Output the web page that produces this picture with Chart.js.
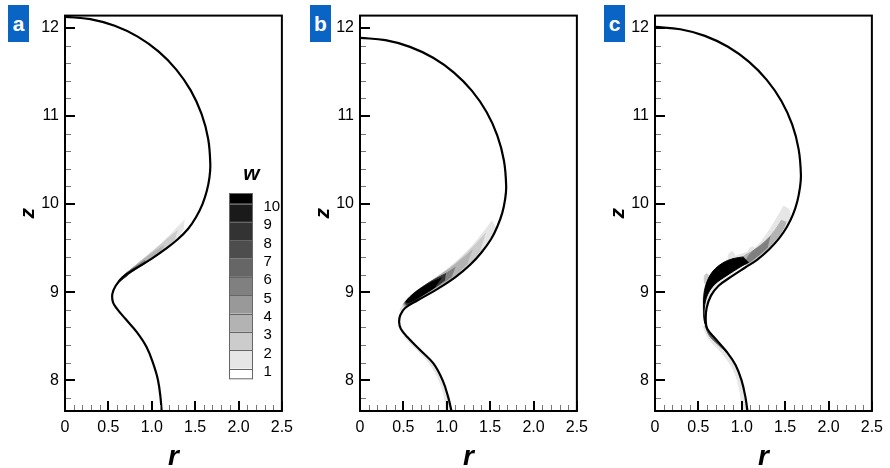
<!DOCTYPE html>
<html>
<head>
<meta charset="utf-8">
<script src="https://cdn.jsdelivr.net/npm/chart.js@4.4.0/dist/chart.umd.min.js"></script>
<style>
  html, body { margin: 0; padding: 0; background: #fff; }
  #wrap { position: relative; width: 890px; height: 468px; overflow: hidden; }
  .panel { position: absolute; top: 0; width: 300px; height: 468px; }
  .tag { position: absolute; top: 5px; width: 21px; height: 37px; background: #0a64c4; color: #fff;
         font: bold 21px "Liberation Sans", Arial, sans-serif; line-height: 37px; text-align: center; }
</style>
</head>
<body>
<div id="wrap">
  <div class="panel" style="left:0px"><canvas id="panelA" width="300" height="468"></canvas></div>
  <div class="panel" style="left:295px"><canvas id="panelB" width="300" height="468"></canvas></div>
  <div class="panel" style="left:590px"><canvas id="panelC" width="300" height="468"></canvas></div>
  <div class="tag" style="left:8px">a</div>
  <div class="tag" style="left:310px">b</div>
  <div class="tag" style="left:604px">c</div>
</div>
<script>
// ---- axes ----
const rTicks = [0, 0.5, 1, 1.5, 2, 2.5];
const zTicks = [8, 9, 10, 11, 12];
const rRange = [0, 2.5];
const zRange = [7.65, 12.14];

// ---- vorticity contour levels (w) and their fills ----
const wLevels = [1, 2, 3, 4, 5, 6, 7, 8, 9, 10];
// wFills[k] fills the band between level k and k+1 (k = 0: below 1, k = 10: above 10)
const wFills = ['#ffffff', '#e6e6e6', '#cccccc', '#b3b3b3', '#999999', '#808080',
                '#666666', '#4d4d4d', '#333333', '#1a1a1a', '#000000'];

// ---- interface profiles (r, z) ----
const interfaceA = [[0,12.125],[0.291,12.100],[0.573,12.024],[0.838,11.901],[1.077,11.733],
  [1.283,11.527],[1.451,11.288],[1.574,11.023],[1.650,10.741],[1.675,10.45],[1.665,10.30],
  [1.635,10.15],[1.585,10.0],[1.51,9.85],[1.42,9.72],[1.30,9.60],[1.16,9.49],[1.0,9.38],
  [0.81,9.265],[0.66,9.165],[0.583,9.07],[0.546,8.98],[0.553,8.885],[0.60,8.81],[0.696,8.697],
  [0.828,8.546],[0.94,8.377],[1.016,8.19],[1.072,8.0],[1.102,7.793],[1.117,7.60]];

const interfaceB = [[0,11.887],[0.293,11.861],[0.576,11.785],[0.843,11.661],[1.083,11.493],
  [1.291,11.285],[1.459,11.045],[1.583,10.778],[1.659,10.495],[1.685,10.202],[1.672,10.05],
  [1.64,9.90],[1.585,9.75],[1.51,9.60],[1.40,9.45],[1.27,9.31],[1.10,9.17],[0.90,9.04],
  [0.67,8.91],[0.52,8.82],[0.465,8.74],[0.451,8.66],[0.47,8.584],[0.546,8.49],[0.696,8.34],
  [0.846,8.19],[0.952,8.0],[1.016,7.81],[1.065,7.60]];

const interfaceC = [[0,12.011],[0.292,11.985],[0.575,11.91],[0.841,11.786],[1.081,11.617],
  [1.288,11.41],[1.457,11.17],[1.581,10.904],[1.656,10.621],[1.682,10.329],[1.67,10.18],
  [1.64,10.03],[1.59,9.88],[1.52,9.74],[1.43,9.61],[1.32,9.49],[1.18,9.37],[1.04,9.28],
  [0.87,9.17],[0.73,9.07],[0.645,8.96],[0.595,8.82],[0.585,8.68],[0.602,8.584],[0.696,8.47],
  [0.828,8.32],[0.93,8.17],[0.997,8.0],[1.042,7.81],[1.072,7.60]];

// ---- vorticity contour regions, panel a ----
const wA1 = [[1.379,9.82],[1.22,9.66],[1.034,9.47],[0.846,9.30],[0.695,9.19],[0.612,9.11],[0.585,9.07],
  [0.64,9.14],[0.80,9.255],[0.99,9.37],[1.17,9.50],[1.30,9.62],[1.37,9.73]];
const wA2 = [[1.30,9.70],[1.15,9.58],[0.98,9.44],[0.82,9.31],[0.69,9.20],[0.62,9.12],[0.65,9.145],
  [0.80,9.255],[0.99,9.37],[1.16,9.49],[1.27,9.61]];
const wA3 = [[1.14,9.53],[0.96,9.41],[0.80,9.29],[0.68,9.19],[0.62,9.12],[0.65,9.145],[0.80,9.255],
  [0.98,9.365],[1.10,9.45]];
const wA5 = [[0.92,9.36],[0.78,9.27],[0.67,9.185],[0.61,9.11],[0.65,9.14],[0.80,9.25],[0.93,9.33]];
const wA7 = [[0.80,9.27],[0.68,9.185],[0.61,9.105],[0.65,9.14],[0.78,9.24]];
const wA8 = [[0.72,9.21],[0.64,9.14],[0.60,9.09],[0.65,9.135],[0.72,9.19]];

// ---- panel b ----
const wB1 = [[1.522,9.81],[1.43,9.69],[1.28,9.51],[1.09,9.33],[0.90,9.18],[0.714,9.06],[0.564,8.95],
  [0.488,8.85],[0.46,8.78],[0.51,8.82],[0.66,8.915],[0.90,9.055],[1.10,9.185],[1.27,9.325],
  [1.40,9.47],[1.50,9.62],[1.56,9.75]];
const wB2 = [[1.45,9.67],[1.32,9.53],[1.15,9.37],[0.96,9.21],[0.76,9.08],[0.59,8.96],[0.50,8.86],
  [0.52,8.83],[0.67,8.925],[0.90,9.06],[1.10,9.19],[1.27,9.33],[1.39,9.48]];
const wB3 = [[1.30,9.48],[1.12,9.33],[0.93,9.20],[0.74,9.07],[0.58,8.95],[0.50,8.86],[0.53,8.84],
  [0.68,8.935],[0.90,9.065],[1.10,9.195],[1.24,9.33]];
const wB5 = [[1.10,9.28],[0.92,9.17],[0.75,9.07],[0.60,8.96],[0.51,8.87],[0.54,8.85],[0.69,8.94],
  [0.90,9.07],[1.06,9.18]];
const wB8 = [[0.99,9.21],[0.85,9.14],[0.72,9.06],[0.60,8.97],[0.52,8.88],[0.55,8.86],[0.70,8.95],
  [0.88,9.065],[0.98,9.14]];
const wB10 = [[0.94,9.16],[0.82,9.11],[0.70,9.04],[0.60,8.965],[0.53,8.89],[0.57,8.885],[0.71,8.96],
  [0.87,9.06]];
const wBlow = [[0.50,8.50],[0.65,8.35],[0.80,8.19],[0.91,8.0],[0.975,7.80],[1.0,7.60],[1.065,7.60],
  [1.016,7.81],[0.952,8.0],[0.846,8.19],[0.696,8.34],[0.546,8.49]];

// ---- panel c ----
const wC1 = [[1.485,9.98],[1.409,9.85],[1.316,9.70],[1.203,9.55],[1.108,9.47],[0.96,9.42],[0.846,9.37],
  [0.733,9.30],[0.639,9.20],[0.583,9.08],[0.55,8.92],[0.555,8.76],[0.58,8.62],[0.575,8.68],
  [0.58,8.82],[0.625,8.97],[0.71,9.085],[0.85,9.185],[1.02,9.30],[1.17,9.38],[1.30,9.49],
  [1.41,9.61],[1.50,9.74],[1.56,9.86],[1.54,9.95]];
const wC3 = [[1.46,9.82],[1.38,9.70],[1.27,9.58],[1.13,9.47],[1.02,9.40],[1.04,9.31],[1.17,9.39],
  [1.30,9.50],[1.41,9.62],[1.49,9.74],[1.51,9.80]];
const wC5 = [[1.33,9.63],[1.22,9.53],[1.10,9.44],[1.04,9.32],[1.17,9.40],[1.30,9.51]];
const wC10 = [[1.02,9.40],[0.90,9.38],[0.78,9.33],[0.67,9.24],[0.60,9.12],[0.565,8.98],[0.56,8.82],
  [0.575,8.66],[0.585,8.62],[0.565,8.69],[0.568,8.82],[0.605,8.97],[0.69,9.09],[0.83,9.19],
  [0.99,9.29],[1.08,9.34]];
const wCblob1 = [[0.84,9.35],[0.85,9.43],[0.89,9.46],[0.92,9.41],[0.90,9.35]];
const wCblob2 = [[0.57,9.10],[0.57,9.18],[0.60,9.21],[0.62,9.16],[0.60,9.09]];
const wCblob3 = [[1.07,9.43],[1.09,9.50],[1.14,9.51],[1.15,9.45],[1.11,9.41]];
const wClow = [[0.55,8.62],[0.62,8.47],[0.76,8.32],[0.88,8.16],[0.95,8.0],[0.99,7.81],[1.01,7.60],
  [1.072,7.60],[1.042,7.81],[0.997,8.0],[0.93,8.17],[0.828,8.32],[0.696,8.47],[0.602,8.584]];
const wClowDark = [[0.575,8.62],[0.63,8.50],[0.72,8.41],[0.80,8.34],[0.828,8.32],[0.696,8.47],[0.602,8.584]];

const shadesA = [[1, wA1], [2, wA2], [3, wA3], [5, wA5], [7, wA7], [8, wA8]];
const shadesB = [[1, wB1], [1, wBlow], [2, wB2], [3, wB3], [5, wB5], [8, wB8], [10, wB10]];
const shadesC = [[1, wC1], [1, wClow], [1, wCblob1], [2, wCblob2], [1, wCblob3], [3, wC3], [5, wC5],
                 [6, wClowDark], [10, wC10]];

const FONT = '"Liberation Sans", Arial, Helvetica, sans-serif';
const toXY = pts => pts.map(p => ({ x: p[0], y: p[1] }));

// inward ticks on the left and bottom axes, plus the box frame
const frameTicks = {
  id: 'frameTicks',
  afterDatasetsDraw(chart) {
    const { ctx, chartArea: a, scales: { x, y } } = chart;
    ctx.save();
    ctx.lineCap = 'butt';
    ctx.strokeStyle = '#777';
    ctx.lineWidth = 1;
    ctx.beginPath();
    for (let i = 0; i <= 25; i++) {
      if (i % 5 === 0) continue;
      const px = Math.round(x.getPixelForValue(i / 10)) + 0.5;
      ctx.moveTo(px, a.bottom); ctx.lineTo(px, a.bottom - 6);
    }
    for (let i = 39; i <= 60; i++) {
      if (i % 5 === 0) continue;
      const py = Math.round(y.getPixelForValue(i / 5)) + 0.5;
      ctx.moveTo(a.left, py); ctx.lineTo(a.left + 6, py);
    }
    ctx.stroke();
    ctx.strokeStyle = '#000';
    ctx.lineWidth = 2;
    ctx.beginPath();
    rTicks.forEach(v => {
      const px = Math.round(x.getPixelForValue(v));
      ctx.moveTo(px, a.bottom); ctx.lineTo(px, a.bottom - 10);
    });
    zTicks.forEach(v => {
      const py = Math.round(y.getPixelForValue(v));
      ctx.moveTo(a.left, py); ctx.lineTo(a.left + 10, py);
    });
    ctx.stroke();
    ctx.strokeRect(a.left, a.top, a.right - a.left, a.bottom - a.top);
    ctx.restore();
  }
};

// colour bar for w
const wLegend = {
  id: 'wLegend',
  afterDraw(chart) {
    const ctx = chart.ctx;
    const left = 229.5, w = 23, step = 18.33, base = 368.5;
    const yOf = k => base - (k - 1) * step;
    ctx.save();
    ctx.fillStyle = wFills[0];
    ctx.fillRect(left, base, w, 10.3);
    for (let k = 1; k < 10; k++) {
      ctx.fillStyle = wFills[k];
      ctx.fillRect(left, yOf(k + 1), w, step);
    }
    ctx.fillStyle = wFills[10];
    ctx.fillRect(left, yOf(10) - 10, w, 10);
    ctx.strokeStyle = '#666';
    ctx.lineWidth = 1;
    ctx.strokeRect(left, yOf(10) - 10, w, base + 10.3 - (yOf(10) - 10));
    ctx.beginPath();
    wLevels.forEach(k => { const yy = Math.round(yOf(k)) + 0.5; ctx.moveTo(left, yy); ctx.lineTo(left + w, yy); });
    ctx.stroke();
    ctx.fillStyle = '#000';
    ctx.font = '15px ' + FONT;
    ctx.textAlign = 'left';
    ctx.textBaseline = 'middle';
    wLevels.forEach(k => ctx.fillText(String(k), 263.5, yOf(k) + 3.4));
    ctx.font = 'italic bold 21px ' + FONT;
    ctx.textAlign = 'center';
    ctx.textBaseline = 'alphabetic';
    ctx.fillText('w', 251.5, 179.5);
    ctx.restore();
  }
};

function makePanel(id, profile, shades, extraPlugins) {
  const datasets = [{
    data: toXY(profile), showLine: true, borderColor: '#000', borderWidth: 2.2,
    pointRadius: 0, tension: 0.4, fill: false, order: 0
  }];
  shades.forEach(([level, pts]) => {
    datasets.push({
      data: toXY(pts), showLine: true, fill: 'shape', tension: 0.35, pointRadius: 0,
      backgroundColor: wFills[level], borderColor: wFills[level], borderWidth: 1,
      order: 30 - level
    });
  });
  return new Chart(document.getElementById(id), {
    type: 'scatter',
    data: { datasets },
    options: {
      responsive: false,
      devicePixelRatio: 1,
      animation: false,
      events: [],
      layout: { padding: { top: 13.5, right: 13.3, left: 0, bottom: 0 } },
      plugins: { legend: { display: false }, tooltip: { enabled: false } },
      scales: {
        x: {
          type: 'linear', min: rRange[0], max: rRange[1],
          afterBuildTicks: s => { s.ticks = rTicks.map(v => ({ value: v })); },
          afterFit: s => { s.height = 57; },
          grid: { display: false, drawTicks: false },
          border: { display: false },
          ticks: { color: '#000', font: { family: FONT, size: 16 }, padding: 7, maxRotation: 0 },
          title: { display: true, text: 'r', color: '#000', padding: 0,
                   font: { family: FONT, size: 28, weight: 'bold', style: 'italic', lineHeight: 0.8 } }
        },
        y: {
          type: 'linear', min: zRange[0], max: zRange[1],
          afterBuildTicks: s => { s.ticks = zTicks.map(v => ({ value: v })); },
          afterFit: s => { s.width = 65; },
          grid: { display: false, drawTicks: false },
          border: { display: false },
          ticks: { color: '#000', font: { family: FONT, size: 16 }, padding: 6 },
          title: { display: true, text: 'z', color: '#000', padding: { top: 16, bottom: 0 },
                   font: { family: FONT, size: 21, weight: 'bold', style: 'italic', lineHeight: 1.2 } }
        }
      }
    },
    plugins: [frameTicks].concat(extraPlugins || [])
  });
}

makePanel('panelA', interfaceA, shadesA, [wLegend]);
makePanel('panelB', interfaceB, shadesB);
makePanel('panelC', interfaceC, shadesC);
</script>
</body>
</html>
